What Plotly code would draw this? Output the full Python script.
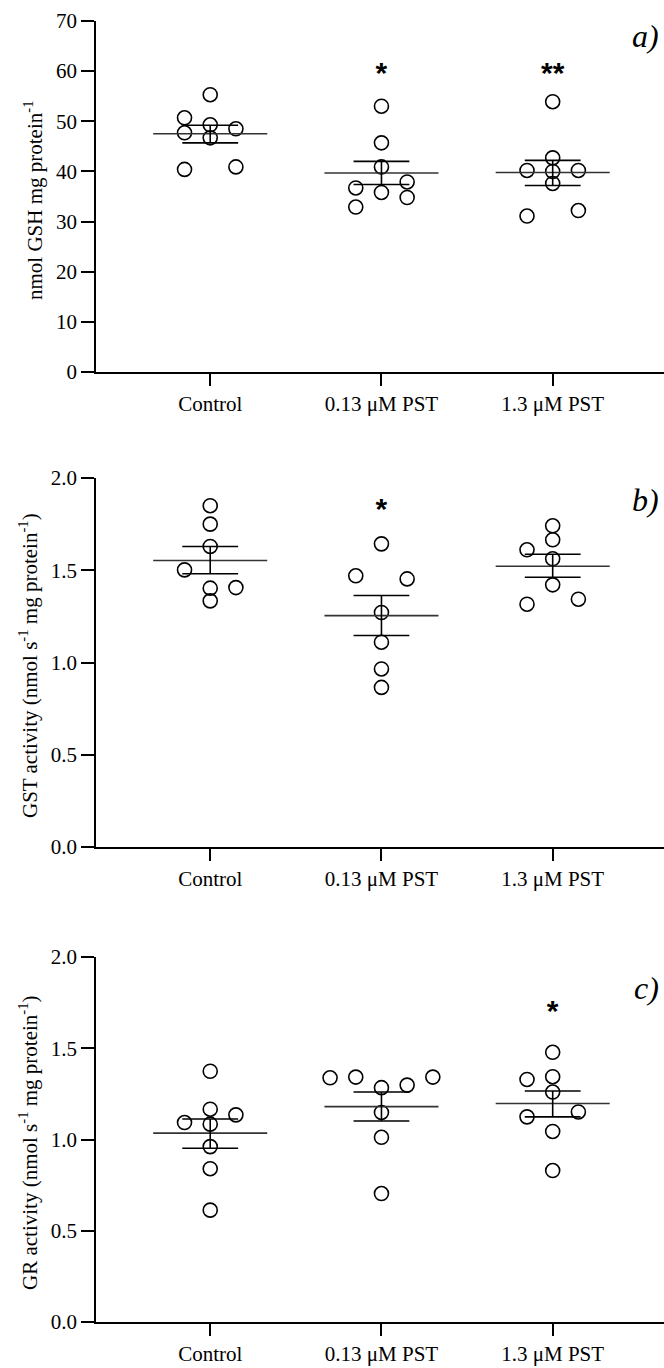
import plotly.graph_objects as go

W, H = 664, 1368

categories = ["Control", "0.13 μM PST", "1.3 μM PST"]

# Panel a: GSH (nmol GSH mg protein-1)
gsh_control = [55.3, 50.7, 47.7, 49.3, 48.5, 46.7, 40.4, 40.9]
gsh_control_col = [0, -1, -1, 0, 1, 0, -1, 1]
gsh_013 = [53.0, 45.7, 40.9, 36.7, 37.9, 35.8, 34.8, 32.9]
gsh_013_col = [0, 0, 0, -1, 1, 0, 1, -1]
gsh_13 = [53.9, 42.7, 40.2, 40.0, 40.2, 37.6, 31.1, 32.2]
gsh_13_col = [0, 0, -1, 0, 1, 0, -1, 1]
gsh_mean = [47.5, 39.7, 39.8]
gsh_upper = [49.2, 42.0, 42.2]
gsh_lower = [45.7, 37.4, 37.2]
gsh_sig = ["", "*", "**"]
gsh_sig_y = [59.1, 59.1, 59.1]

# Panel b: GST activity
gst_control = [1.850, 1.750, 1.629, 1.502, 1.403, 1.406, 1.334]
gst_control_col = [0, 0, 0, -1, 0, 1, 0]
gst_013 = [1.643, 1.470, 1.453, 1.271, 1.110, 0.965, 0.865]
gst_013_col = [0, -1, 1, 0, 0, 0, 0]
gst_13 = [1.741, 1.665, 1.611, 1.562, 1.421, 1.316, 1.343]
gst_13_col = [0, 0, -1, 0, 0, -1, 1]
gst_mean = [1.553, 1.254, 1.522]
gst_upper = [1.629, 1.363, 1.587]
gst_lower = [1.481, 1.146, 1.462]
gst_sig = ["", "*", ""]
gst_sig_y = [1.82, 1.82, 1.82]

# Panel c: GR activity
gr_control = [1.374, 1.166, 1.093, 1.135, 1.084, 0.961, 0.840, 0.613]
gr_control_col = [0, 0, -1, 1, 0, 0, 0, 0]
gr_013 = [1.338, 1.342, 1.284, 1.298, 1.342, 1.148, 1.012, 0.704]
gr_013_col = [-2, -1, 0, 1, 2, 0, 0, 0]
gr_13 = [1.478, 1.329, 1.344, 1.260, 1.124, 1.151, 1.044, 0.830]
gr_13_col = [0, -1, 0, 0, -1, 1, 0, 0]
gr_mean = [1.035, 1.180, 1.197]
gr_upper = [1.112, 1.260, 1.266]
gr_lower = [0.952, 1.101, 1.124]
gr_sig = ["", "", "*"]
gr_sig_y = [1.69, 1.69, 1.69]

panels = [
    dict(groups=[(gsh_control, gsh_control_col), (gsh_013, gsh_013_col), (gsh_13, gsh_13_col)],
         mean=gsh_mean, upper=gsh_upper, lower=gsh_lower, sig=gsh_sig, sig_y=gsh_sig_y,
         yrange=[0, 70], dtick=10, fmt="d", top=21, bottom=372, letter="a)", letter_y=36,
         title="nmol GSH mg protein<sup>-1</sup>", title_x=34, title_y=200),
    dict(groups=[(gst_control, gst_control_col), (gst_013, gst_013_col), (gst_13, gst_13_col)],
         mean=gst_mean, upper=gst_upper, lower=gst_lower, sig=gst_sig, sig_y=gst_sig_y,
         yrange=[0, 2], dtick=0.5, fmt=".1f", top=478, bottom=847, letter="b)", letter_y=500,
         title="GST activity (nmol s<sup>-1</sup> mg protein<sup>-1</sup>)", title_x=28, title_y=666),
    dict(groups=[(gr_control, gr_control_col), (gr_013, gr_013_col), (gr_13, gr_13_col)],
         mean=gr_mean, upper=gr_upper, lower=gr_lower, sig=gr_sig, sig_y=gr_sig_y,
         yrange=[0, 2], dtick=0.5, fmt=".1f", top=957, bottom=1322, letter="c)", letter_y=988,
         title="GR activity (nmol s<sup>-1</sup> mg protein<sup>-1</sup>)", title_x=28, title_y=1143),
]

COL_STEP = 0.15
MEAN_HALF = 0.333
CAP_HALF = 0.163
FONT = "Liberation Serif, Times New Roman, serif"

fig = go.Figure()
annotations = []
layout = {}

for i, p in enumerate(panels):
    n = "" if i == 0 else str(i + 1)
    xa, ya = "x" + n, "y" + n
    for ci, (vals, cols) in enumerate(p["groups"]):
        fig.add_trace(go.Scatter(
            x=[ci + c * COL_STEP for c in cols], y=vals, mode="markers",
            marker=dict(symbol="circle-open", size=14, color="black", line=dict(width=1.6)),
            xaxis=xa, yaxis=ya, showlegend=False, hoverinfo="y"))
    for ci in range(len(categories)):
        m, u, l = p["mean"][ci], p["upper"][ci], p["lower"][ci]
        fig.add_trace(go.Scatter(x=[ci - MEAN_HALF, ci + MEAN_HALF], y=[m, m], mode="lines",
                                 line=dict(color="#333333", width=1.6), xaxis=xa, yaxis=ya,
                                 showlegend=False, hoverinfo="skip"))
        fig.add_trace(go.Scatter(
            x=[ci - CAP_HALF, ci + CAP_HALF, None, ci, ci, None, ci - CAP_HALF, ci + CAP_HALF],
            y=[u, u, None, u, l, None, l, l], mode="lines",
            line=dict(color="black", width=1.6), xaxis=xa, yaxis=ya,
            showlegend=False, hoverinfo="skip"))
    sig_idx = [k for k, s in enumerate(p["sig"]) if s]
    fig.add_trace(go.Scatter(x=sig_idx, y=[p["sig_y"][k] for k in sig_idx],
                             text=[p["sig"][k] for k in sig_idx],
                             mode="text", textposition="middle center",
                             textfont=dict(family="Liberation Sans, Arial", size=30, color="black",
                                           weight="bold"),
                             xaxis=xa, yaxis=ya, showlegend=False, hoverinfo="skip"))

    dom_y = [1 - p["bottom"] / H, 1 - p["top"] / H]
    layout["xaxis" + n] = dict(
        domain=[96 / W, 1], range=[-0.667, 2.65], anchor=ya,
        tickmode="array", tickvals=list(range(len(categories))), ticktext=categories,
        ticks="outside", ticklen=12, tickwidth=1.6, tickcolor="black",
        showline=True, linecolor="black", linewidth=1.8, showgrid=False, zeroline=False,
        tickfont=dict(family=FONT, size=21, color="black"), automargin=False, fixedrange=True)
    layout["yaxis" + n] = dict(
        domain=dom_y, range=p["yrange"], anchor=xa, dtick=p["dtick"], tick0=0, tickformat=p["fmt"],
        ticks="outside", ticklen=13, tickwidth=1.6, tickcolor="black",
        showline=True, linecolor="black", linewidth=1.8, showgrid=False, zeroline=False,
        tickfont=dict(family=FONT, size=21, color="black"), automargin=False, fixedrange=True)
    annotations.append(dict(text="<i>" + p["letter"] + "</i>", x=661 / W, y=1 - p["letter_y"] / H,
                            xref="paper", yref="paper", showarrow=False,
                            xanchor="right", yanchor="middle",
                            font=dict(family=FONT, size=32, color="black")))
    annotations.append(dict(text=p["title"], x=p["title_x"] / W, y=1 - p["title_y"] / H,
                            xref="paper", yref="paper", showarrow=False, textangle=-90,
                            xanchor="center", yanchor="middle",
                            font=dict(family=FONT, size=21, color="black")))

fig.update_layout(
    width=W, height=H, margin=dict(l=0, r=0, t=0, b=0),
    paper_bgcolor="white", plot_bgcolor="white", template="none",
    annotations=annotations, **layout)

fig.write_html("out.html", config={"displayModeBar": False},
               post_script="document.body.style.margin='0';document.body.style.overflow='hidden';"
                           "document.documentElement.style.overflow='hidden';")
